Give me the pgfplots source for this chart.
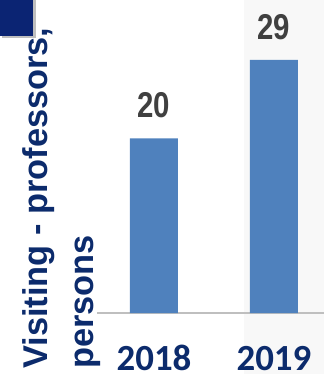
\documentclass[border=0pt]{standalone}
\usepackage{pgfplots}
\pgfplotsset{compat=1.18}
\usepackage{fontspec}
\setmainfont{Liberation Sans}
\newfontfamily\carlito{Carlito}
\definecolor{barblue}{HTML}{4F81BD}
\definecolor{navy}{HTML}{0C2B6C}
\definecolor{boxnavy}{HTML}{0B2473}
\definecolor{numgray}{HTML}{404040}
\definecolor{axgray}{HTML}{BFBFBF}
\definecolor{bggray}{HTML}{F8F8F8}
\begin{document}
\begin{tikzpicture}[x=1bp,y=1bp]
\useasboundingbox (0,0) rectangle (324,374);
\fill[bggray] (244,0) rectangle (324,374);
\fill[black!25] (2,336) rectangle (36,374);
\fill[boxnavy] (0,338) rectangle (33,374);
\begin{axis}[
  at={(97bp,61bp)}, anchor=south west,
  scale only axis, width=227bp, height=313bp,
  ybar, bar width=48bp,
  xmin=-0.475, xmax=1.417, ymin=0, ymax=35.85,
  axis x line=bottom, axis y line=left,
  x axis line style={-, draw=axgray, line width=1.3pt},
  y axis line style={draw=none},
  ytick=\empty,
  xtick={0,1}, xticklabels={2018,2019},
  major tick length=0,
  xticklabel style={font=\carlito\bfseries\fontsize{37}{40}\selectfont, text=navy, anchor=base, inner sep=0pt, text depth=0pt, yshift=-57bp},
  ylabel={Visiting - professors,\\persons},
  ylabel style={font=\bfseries\fontsize{34.5}{46}\selectfont, text=navy, align=left, inner sep=0pt, anchor=north west, at={(axis description cs:-0.330,-0.179)}, rotate=0},
  nodes near coords={\scalebox{0.82}[1]{\bfseries\fontsize{36}{38}\selectfont\pgfmathprintnumber[assume math mode=true]{\pgfplotspointmeta}}},
  every node near coord/.append style={text=numgray, anchor=south, inner sep=0pt, yshift=20bp},
  clip=false,
]
\addplot[fill=barblue, draw=none] coordinates {(0,20) (1,29)};
\end{axis}
\end{tikzpicture}
\end{document}
